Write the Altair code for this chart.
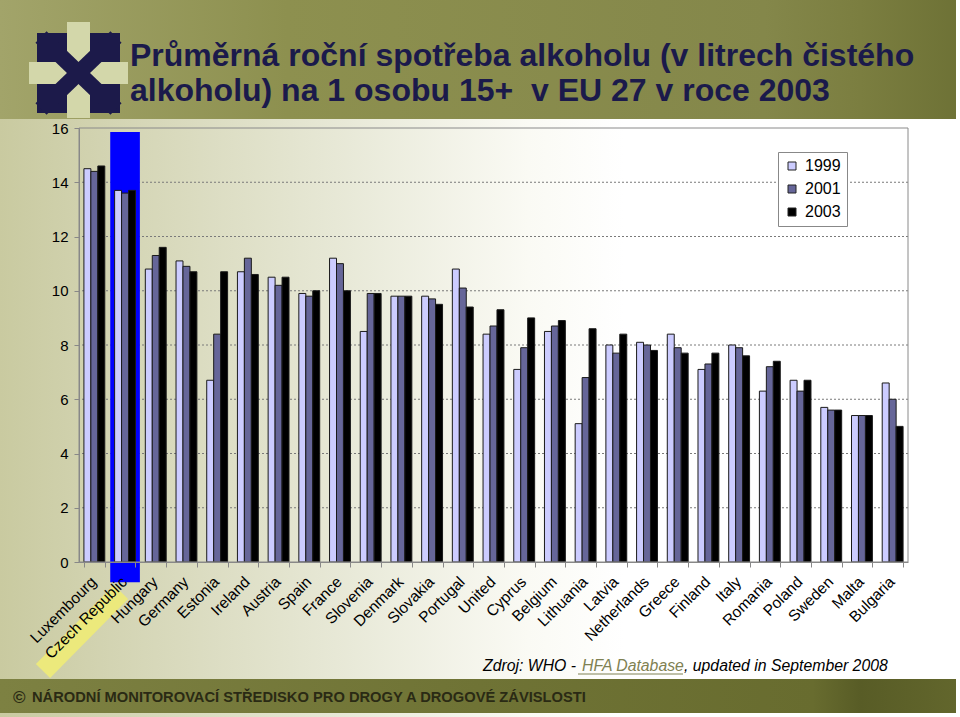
import altair as alt
import pandas as pd

countries = ["Luxembourg", "Czech Republic", "Hungary", "Germany", "Estonia", "Ireland",
             "Austria", "Spain", "France", "Slovenia", "Denmark", "Slovakia", "Portugal",
             "United", "Cyprus", "Belgium", "Lithuania", "Latvia", "Netherlands", "Greece",
             "Finland", "Italy", "Romania", "Poland", "Sweden", "Malta", "Bulgaria"]
v1999 = [14.5, 13.7, 10.8, 11.1, 6.7, 10.7, 10.5, 9.9, 11.2, 8.5, 9.8, 9.8, 10.8,
         8.4, 7.1, 8.5, 5.1, 8.0, 8.1, 8.4, 7.1, 8.0, 6.3, 6.7, 5.7, 5.4, 6.6]
v2001 = [14.4, 13.6, 11.3, 10.9, 8.4, 11.2, 10.2, 9.8, 11.0, 9.9, 9.8, 9.7, 10.1,
         8.7, 7.9, 8.7, 6.8, 7.7, 8.0, 7.9, 7.3, 7.9, 7.2, 6.3, 5.6, 5.4, 6.0]
v2003 = [14.6, 13.7, 11.6, 10.7, 10.7, 10.6, 10.5, 10.0, 10.0, 9.9, 9.8, 9.5, 9.4,
         9.3, 9.0, 8.9, 8.6, 8.4, 7.8, 7.7, 7.7, 7.6, 7.4, 6.7, 5.6, 5.4, 5.0]
years = ["1999", "2001", "2003"]
year_colors = ["#ccccff", "#666699", "#000000"]
y_ticks = [0, 2, 4, 6, 8, 10, 12, 14, 16]
highlight = ["Czech Republic"]

title_1 = "Průměrná roční spotřeba alkoholu (v litrech čistého"
title_2 = "alkoholu) na 1 osobu 15+\u00a0 v EU 27 v roce 2003"
footer_text = "NÁRODNÍ MONITOROVACÍ STŘEDISKO PRO DROGY A DROGOVÉ ZÁVISLOSTI"
src_1 = "Zdroj: WHO -"
src_2 = "HFA Database"
src_3 = ", updated in September 2008"

rows = []
for i, c in enumerate(countries):
    for y, vals in zip(years, [v1999, v2001, v2003]):
        rows.append({"country": c, "year": y, "value": vals[i]})
df = pd.DataFrame(rows)

W, H = 829, 434
SANS = "Liberation Sans, Arial, sans-serif"
NARROW = "Liberation Sans Narrow, Arial Narrow, Liberation Sans, sans-serif"

one = alt.Data(values=[{"k": 1}])


def deco():
    return alt.Chart(one)


def grad(stops, horizontal=True):
    return alt.Gradient(
        gradient="linear",
        stops=[alt.GradientStop(color=c, offset=o) for o, c in stops],
        x1=0, x2=1 if horizontal else 0, y1=0, y2=0 if horizontal else 1,
    )


background = deco().mark_rect(
    fill=grad([(0, "#c9caa0"), (0.15, "#d6d7b8"), (0.35, "#e7e8d6"),
               (0.55, "#fafaf4"), (0.65, "#ffffff"), (1, "#ffffff")])
).encode(x=alt.value(-79), x2=alt.value(881), y=alt.value(-128), y2=alt.value(589))

title_band = deco().mark_rect(
    fill=grad([(0, "#a2a46a"), (0.3, "#8d904f"), (0.8, "#84874a"),
               (0.9, "#7b7e40"), (1, "#6e7236")])
).encode(x=alt.value(-79), x2=alt.value(877), y=alt.value(-128), y2=alt.value(-9))

LIGHT = "#d3d7aa"
NAVY = "#1c1a4a"
logo_sq = deco().mark_rect(color=NAVY).encode(
    x=alt.value(-42), x2=alt.value(41), y=alt.value(-95), y2=alt.value(-15))
logo_v = deco().mark_rect(color=LIGHT).encode(
    x=alt.value(-12), x2=alt.value(11), y=alt.value(-106), y2=alt.value(-10))
logo_h = deco().mark_rect(color=LIGHT).encode(
    x=alt.value(-50), x2=alt.value(49), y=alt.value(-66), y2=alt.value(-44))
logo_x1 = deco().mark_rule(color=NAVY, strokeWidth=16, strokeCap="butt").encode(
    x=alt.value(-38), x2=alt.value(37), y=alt.value(-91), y2=alt.value(-19))
logo_x2 = deco().mark_rule(color=NAVY, strokeWidth=16, strokeCap="butt").encode(
    x=alt.value(-38), x2=alt.value(37), y=alt.value(-19), y2=alt.value(-91))

t1 = deco().mark_text(text=title_1, font=NARROW, fontSize=32, fontWeight="bold",
                      color="#1b1a4b", align="left", baseline="alphabetic").encode(
    x=alt.value(51), y=alt.value(-62))
t2 = deco().mark_text(text=title_2, font=NARROW, fontSize=32, fontWeight="bold",
                      color="#1b1a4b", align="left", baseline="alphabetic").encode(
    x=alt.value(51), y=alt.value(-27))

footer_band = deco().mark_rect(
    fill=grad([(0, "#7d8142"), (0.5, "#6f7335"), (0.85, "#686c2f"),
               (0.9, "#585c26"), (1, "#62662c")])
).encode(x=alt.value(-79), x2=alt.value(877), y=alt.value(551), y2=alt.value(585))
footer_c = deco().mark_text(text="©", font=SANS, fontSize=17, fontWeight="bold",
                            color="#2a2a14", align="left", baseline="alphabetic").encode(
    x=alt.value(-66), y=alt.value(575))
footer_t = deco().mark_text(text=footer_text, font=NARROW, fontSize=14.7, fontWeight="bold",
                            color="#2a2a14", align="left", baseline="alphabetic").encode(
    x=alt.value(-47), y=alt.value(574))

s1 = deco().mark_text(text=src_1, font=SANS, fontSize=15.8, fontStyle="italic",
                      color="#000000", align="left", baseline="alphabetic").encode(
    x=alt.value(404), y=alt.value(543))
s2 = deco().mark_text(text=src_2, font=SANS, fontSize=15.8, fontStyle="italic",
                      color="#7f8152", align="left", baseline="alphabetic").encode(
    x=alt.value(503), y=alt.value(543))
s3 = deco().mark_text(text=src_3, font=SANS, fontSize=15.8, fontStyle="italic",
                      color="#000000", align="left", baseline="alphabetic").encode(
    x=alt.value(605), y=alt.value(543))
s_line = deco().mark_rule(color="#7f8152", strokeWidth=1).encode(
    x=alt.value(499), x2=alt.value(604), y=alt.value(546))

yellow = deco().mark_rule(color="#ece97c", strokeWidth=20, strokeCap="butt").encode(
    x=alt.value(-36), x2=alt.value(42), y=alt.value(543), y2=alt.value(464))

x_scale = alt.Scale(domain=countries, paddingInner=0.32, paddingOuter=0.16)
y_scale = alt.Scale(domain=[0, 16], nice=False, zero=True)

x_enc = alt.X("country:N", sort=countries, scale=x_scale,
              axis=alt.Axis(title=None, labelAngle=-45, labelFontSize=15.5, labelFont=SANS,
                            labelColor="#000000", labelOverlap=False, tickBand="extent",
                            tickSize=5, tickColor="#888888", domainColor="#888888",
                            labelPadding=7, labelOffset=-6, zindex=1))
y_axis = alt.Axis(title=None, values=y_ticks, labelFontSize=15, labelFont=SANS,
                  labelColor="#000000", grid=False, tickSize=5, tickColor="#888888",
                  domainColor="#888888", labelPadding=6, zindex=1)

grid = alt.Chart(pd.DataFrame({"v": y_ticks[1:-1]})).mark_rule(
    color="#7a7a7a", strokeDash=[2, 2], strokeWidth=1
).encode(y=alt.Y("v:Q", scale=y_scale, axis=y_axis))

blue = alt.Chart(pd.DataFrame({"country": highlight})).mark_bar(
    color="#0000ff", width=alt.RelativeBandSize(1.42)
).encode(
    x=x_enc,
    y=alt.Y(datum=15.85, type="quantitative", scale=y_scale),
    y2=alt.Y2(datum=-0.75),
)

bars = alt.Chart(df).mark_bar(stroke="#1a1a1a", strokeWidth=1).encode(
    x=x_enc,
    xOffset=alt.XOffset("year:N", sort=years, scale=alt.Scale(paddingInner=0, paddingOuter=0)),
    y=alt.Y("value:Q", scale=y_scale, axis=y_axis),
    color=alt.Color("year:N", sort=years,
                    scale=alt.Scale(domain=years, range=year_colors),
                    legend=alt.Legend(title=None, orient="none", legendX=699, legendY=24,
                                      fillColor="#ffffff", strokeColor="#888888",
                                      padding=6, symbolType="square", symbolSize=64,
                                      symbolStrokeColor="#222222", symbolStrokeWidth=1,
                                      labelFontSize=16, labelFont=SANS, labelColor="#000000",
                                      rowPadding=7, labelOffset=5)),
)

border = deco().mark_rect(fillOpacity=0, stroke="#8a8a8a", strokeWidth=1).encode(
    x=alt.value(0), x2=alt.value(W), y=alt.value(0), y2=alt.value(H))

chart = alt.layer(
    background, title_band, logo_sq, logo_v, logo_h, logo_x1, logo_x2,
    t1, t2, footer_band, footer_c, footer_t, s1, s2, s3, s_line, yellow,
    grid, blue, bars, border,
).resolve_scale(x="shared", y="shared").properties(
    width=W, height=H,
    autosize=alt.AutoSizeParams(type="none"),
    padding={"left": 79, "top": 128, "right": 52, "bottom": 155},
    background="#ffffff",
).configure_view(stroke=None)

chart.save("out.html", embed_options={"renderer": "svg", "actions": False})
